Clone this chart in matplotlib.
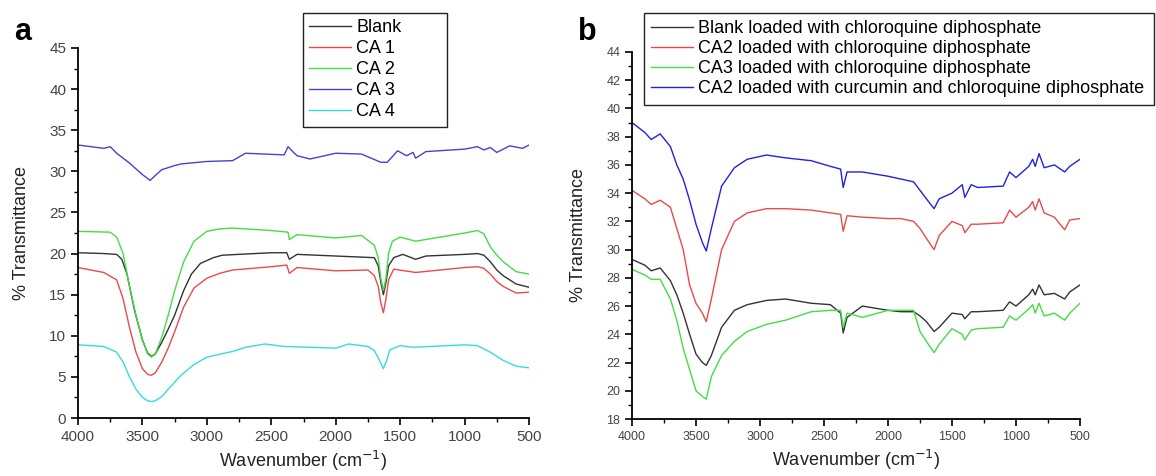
import matplotlib
matplotlib.use('Agg')
import matplotlib.pyplot as plt
from matplotlib.ticker import MultipleLocator

plt.rcParams['font.family'] = ['Liberation Sans', 'DejaVu Sans']

# ---- panel a data (wavenumber, % transmittance) ----
wn_blank = [4000, 3800, 3700, 3660, 3620, 3560, 3500, 3460, 3430, 3400, 3350, 3300, 3250, 3180, 3120, 3050,
            2950, 2880, 2500, 2380, 2360, 2300, 2000, 1700, 1670, 1650, 1630, 1610, 1590, 1550, 1480, 1380,
            1300, 1000, 900, 850, 800, 750, 700, 600, 500]
t_blank = [20.1, 20.0, 19.9, 19.3, 17.5, 13.0, 9.5, 7.9, 7.5, 7.8, 9.2, 10.8, 12.5, 15.5, 17.5, 18.8,
           19.5, 19.8, 20.1, 20.1, 19.3, 19.9, 19.7, 19.5, 18.5, 16.5, 15.0, 16.5, 18.5, 19.5, 19.9, 19.3,
           19.7, 19.9, 20.0, 19.8, 19.0, 18.0, 17.3, 16.3, 15.9]

wn_ca1 = [4000, 3800, 3700, 3650, 3600, 3550, 3500, 3460, 3430, 3400, 3350, 3300, 3250, 3180, 3100, 3000,
          2900, 2800, 2500, 2380, 2360, 2300, 2000, 1750, 1700, 1670, 1650, 1630, 1610, 1590, 1550, 1380,
          1000, 900, 850, 800, 750, 700, 600, 500]
t_ca1 = [18.3, 17.7, 16.8, 14.5, 11.0, 8.0, 6.0, 5.3, 5.2, 5.5, 6.8, 8.5, 10.5, 13.5, 15.8, 17.0,
         17.6, 18.0, 18.4, 18.6, 17.6, 18.3, 17.9, 18.0, 17.3, 16.0, 14.0, 12.8, 14.5, 16.8, 18.1, 17.7,
         18.3, 18.4, 18.2, 17.5, 16.6, 16.0, 15.2, 15.3]

wn_ca2 = [4000, 3750, 3700, 3650, 3600, 3550, 3500, 3460, 3430, 3400, 3350, 3300, 3250, 3180, 3100, 3000,
          2900, 2800, 2500, 2370, 2360, 2300, 2000, 1800, 1700, 1670, 1650, 1630, 1610, 1590, 1560, 1500,
          1380, 1000, 900, 850, 800, 750, 700, 600, 500]
t_ca2 = [22.7, 22.6, 22.0, 20.0, 16.0, 12.5, 9.5, 7.8, 7.4, 7.8, 9.8, 12.5, 15.5, 19.0, 21.5, 22.7,
         23.0, 23.1, 22.8, 22.6, 21.7, 22.3, 21.9, 22.2, 21.0, 19.5, 17.0, 15.5, 17.0, 20.0, 21.5, 22.0,
         21.5, 22.5, 22.8, 22.4, 20.8, 19.8, 19.0, 17.8, 17.5]

wn_ca3 = [4000, 3800, 3750, 3700, 3600, 3500, 3440, 3400, 3350, 3250, 3200, 3000, 2800, 2700, 2400, 2370,
          2340, 2300, 2200, 2000, 1800, 1650, 1600, 1520, 1450, 1400, 1380, 1300, 1000, 900, 850, 800,
          750, 650, 550, 500]
t_ca3 = [33.2, 32.8, 33.0, 32.2, 31.0, 29.6, 28.9, 29.5, 30.2, 30.7, 30.9, 31.2, 31.3, 32.2, 32.0, 33.0,
         32.5, 31.9, 31.5, 32.2, 32.1, 31.1, 31.1, 32.5, 31.9, 32.3, 31.6, 32.4, 32.7, 33.0, 32.6, 32.9,
         32.3, 33.1, 32.8, 33.2]

wn_ca4 = [4000, 3800, 3700, 3650, 3600, 3550, 3500, 3460, 3430, 3400, 3350, 3300, 3200, 3100, 3000, 2800,
          2700, 2550, 2400, 2000, 1900, 1750, 1700, 1660, 1630, 1600, 1580, 1500, 1400, 1000, 900, 800,
          700, 600, 500]
t_ca4 = [8.9, 8.7, 8.0, 6.8, 5.0, 3.5, 2.5, 2.1, 2.0, 2.1, 2.6, 3.5, 5.2, 6.5, 7.4, 8.1,
         8.6, 9.0, 8.7, 8.5, 9.0, 8.7, 8.2, 7.0, 6.0, 7.2, 8.3, 8.8, 8.6, 8.9, 8.8, 8.0,
         7.0, 6.3, 6.1]

# ---- panel b data ----
wn_b = [4000, 3900, 3850, 3780, 3700, 3650, 3600, 3550, 3500, 3450, 3420, 3380, 3300, 3200, 3100, 2950,
        2800, 2600, 2450, 2370, 2350, 2320, 2200, 2000, 1900, 1800, 1750, 1700, 1640, 1600, 1500, 1420,
        1400, 1350, 1300, 1100, 1050, 1000, 900, 870, 850, 820, 780, 700, 620, 580, 500]
t_blank_cq = [29.3, 28.9, 28.5, 28.7, 27.8, 26.8, 25.5, 24.0, 22.6, 22.0, 21.8, 22.5, 24.5, 25.7, 26.1, 26.4,
              26.5, 26.2, 26.1, 25.5, 24.1, 25.2, 26.0, 25.7, 25.6, 25.6, 25.3, 24.9, 24.2, 24.5, 25.5, 25.4,
              25.1, 25.6, 25.6, 25.7, 26.3, 26.0, 26.8, 27.2, 26.8, 27.5, 26.8, 26.9, 26.5, 27.0, 27.5]
t_ca2_cq = [34.2, 33.6, 33.2, 33.5, 33.0, 31.5, 30.0, 27.5, 26.2, 25.5, 24.9, 26.5, 30.0, 32.0, 32.6, 32.9,
            32.9, 32.8, 32.6, 32.5, 31.3, 32.4, 32.3, 32.2, 32.2, 32.0, 31.5, 30.8, 30.0, 31.0, 32.0, 31.7,
            31.2, 31.8, 31.8, 31.9, 32.8, 32.3, 33.0, 33.4, 32.8, 33.6, 32.6, 32.3, 31.4, 32.1, 32.2]
t_ca3_cq = [28.6, 28.2, 27.9, 27.9, 26.5, 25.0, 23.0, 21.5, 20.0, 19.6, 19.4, 21.0, 22.5, 23.5, 24.2, 24.7,
            25.0, 25.6, 25.7, 25.7, 24.5, 25.5, 25.2, 25.7, 25.7, 25.7, 24.2, 23.5, 22.7, 23.3, 24.4, 24.0,
            23.6, 24.3, 24.4, 24.5, 25.3, 25.0, 25.8, 26.1, 25.5, 26.2, 25.3, 25.5, 25.0, 25.5, 26.2]
t_ca2_cur = [39.0, 38.3, 37.8, 38.2, 37.3, 36.0, 35.0, 33.5, 31.8, 30.5, 29.9, 31.5, 34.5, 35.8, 36.4, 36.7,
             36.5, 36.3, 35.9, 35.7, 34.4, 35.5, 35.5, 35.2, 35.0, 34.8, 34.2, 33.6, 32.9, 33.6, 34.0, 34.6,
             33.7, 34.6, 34.4, 34.5, 35.5, 35.1, 35.9, 36.4, 35.9, 36.8, 35.8, 36.0, 35.5, 35.9, 36.4]

labels_a = ['Blank', 'CA 1', 'CA 2', 'CA 3', 'CA 4']
labels_b = ['Blank loaded with chloroquine diphosphate',
            'CA2 loaded with chloroquine diphosphate',
            'CA3 loaded with chloroquine diphosphate',
            'CA2 loaded with curcumin and chloroquine diphosphate']

W, H = 1156, 476
fig = plt.figure(figsize=(W / 100, H / 100), dpi=100)

ax_a = fig.add_axes([78 / W, 1 - 418 / H, 451 / W, 370 / H])
ax_b = fig.add_axes([632 / W, 1 - 419 / H, 448 / W, 367 / H])

cols_a = ['#333333', '#e84a4a', '#44dd44', '#4444cc', '#33dddd']
series_a = [(wn_blank, t_blank), (wn_ca1, t_ca1), (wn_ca2, t_ca2), (wn_ca3, t_ca3), (wn_ca4, t_ca4)]
for (x, y), c, lab in zip(series_a, cols_a, labels_a):
    ax_a.plot(x, y, color=c, lw=1.0, label=lab)

cols_b = ['#333333', '#e84a4a', '#44dd44', '#2222dd']
series_b = [t_blank_cq, t_ca2_cq, t_ca3_cq, t_ca2_cur]
for y, c, lab in zip(series_b, cols_b, labels_b):
    ax_b.plot(wn_b, y, color=c, lw=1.0, label=lab)

ax_a.set_ylim(0, 45)
ax_a.yaxis.set_major_locator(MultipleLocator(5))
ax_a.yaxis.set_minor_locator(MultipleLocator(2.5))
ax_b.set_ylim(18, 44)
ax_b.yaxis.set_major_locator(MultipleLocator(2))
ax_b.yaxis.set_minor_locator(MultipleLocator(1))

for ax, fs in [(ax_a, 11), (ax_b, 9)]:
    ax.set_xlim(4000, 500)
    ax.xaxis.set_major_locator(MultipleLocator(500))
    ax.xaxis.set_minor_locator(MultipleLocator(250))
    ax.spines['top'].set_visible(False)
    ax.spines['right'].set_visible(False)
    for s in ('left', 'bottom'):
        ax.spines[s].set_linewidth(1.3)
    ax.tick_params(which='major', direction='out', length=5, width=1.2, labelsize=fs, labelcolor='#444444')
    ax.tick_params(which='minor', direction='out', length=3, width=1.0)
    ax.set_xlabel('Wavenumber (cm$^{-1}$)', fontsize=13, color='#222222', labelpad=4)
    ax.set_ylabel('% Transmittance', fontsize=13, color='#222222', labelpad=14)

ax_a.legend(loc='upper left', bbox_to_anchor=(303 / W, 1 - 135 / H, 144 / W, 122 / H),
            bbox_transform=fig.transFigure, mode='expand',
            borderaxespad=0, fontsize=13, labelspacing=0.22, handlelength=2.3, handletextpad=0.3,
            fancybox=False, edgecolor='#222222', framealpha=1, borderpad=0.35)
ax_b.legend(loc='upper left', bbox_to_anchor=(644 / W, 1 - 113 / H, 510 / W, 100 / H),
            bbox_transform=fig.transFigure, mode='expand',
            borderaxespad=0, fontsize=13, labelspacing=0.17, handlelength=2.3, handletextpad=0.3,
            fancybox=False, edgecolor='#222222', framealpha=1, borderpad=0.4)

fig.text(14 / W, 1 - 40 / H, 'a', fontsize=22, fontweight='bold')
fig.text(578 / W, 1 - 40 / H, 'b', fontsize=22, fontweight='bold')

fig.savefig('out.png', dpi=100)
